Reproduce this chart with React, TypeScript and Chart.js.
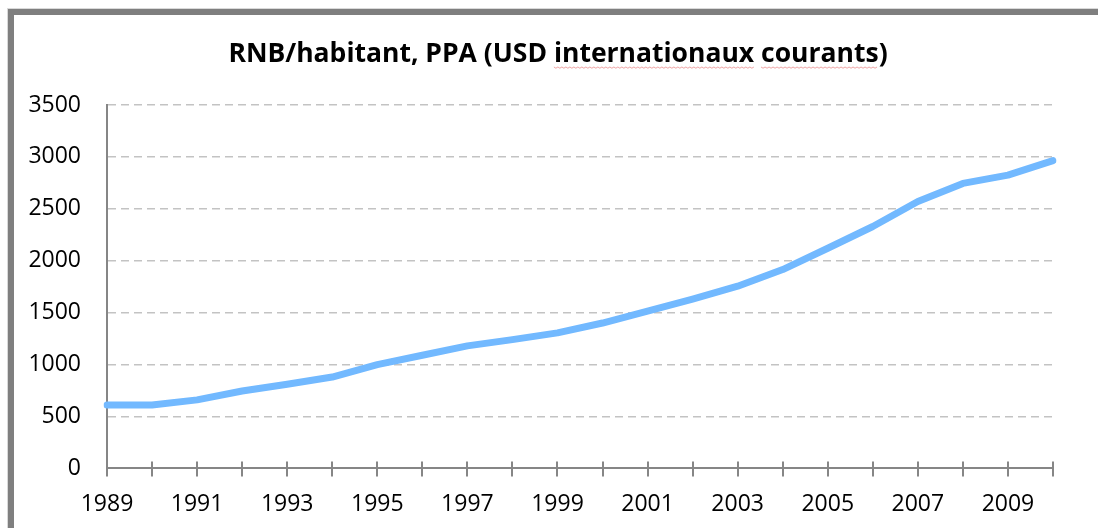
import React, { useEffect, useRef } from "react";
import { Chart, registerables } from "chart.js";

Chart.register(...registerables);

const TITLE = "RNB/habitant, PPA (USD internationaux courants)";
const YEARS = [
  "1989", "1990", "1991", "1992", "1993", "1994", "1995", "1996", "1997", "1998", "1999",
  "2000", "2001", "2002", "2003", "2004", "2005", "2006", "2007", "2008", "2009", "2010",
];
const GNI_PPP = [
  610, 610, 660, 745, 810, 880, 1000, 1090, 1180, 1240, 1305,
  1400, 1515, 1630, 1755, 1915, 2120, 2330, 2570, 2745, 2825, 2965,
];
const Y_MIN = 0;
const Y_MAX = 3500;
const Y_STEP = 500;

const FONT = "'Open Sans', 'Noto Sans', 'DejaVu Sans', sans-serif";

const framePlugin = {
  id: "frame",
  beforeDraw(chart: any) {
    const ctx = chart.ctx;
    ctx.save();
    ctx.fillStyle = "#ffffff";
    ctx.fillRect(0, 0, chart.width, chart.height);
    ctx.strokeStyle = "#d9d9d9";
    ctx.lineWidth = 1;
    ctx.strokeRect(7.5, 8.5, chart.width + 40, chart.height + 40);
    ctx.strokeStyle = "#7f7f7f";
    ctx.lineWidth = 6;
    ctx.strokeRect(11, 12, chart.width + 40, chart.height + 40);
    ctx.restore();
  },
};

const titlePlugin = {
  id: "customTitle",
  afterDraw(chart: any) {
    const ctx = chart.ctx;
    ctx.save();
    ctx.font = `bold 26.5px ${FONT}`;
    ctx.fillStyle = "#000000";
    ctx.textAlign = "left";
    ctx.textBaseline = "alphabetic";
    const total = ctx.measureText(TITLE).width;
    const cx = 558;
    const baseY = 62;
    const x0 = cx - total / 2;
    ctx.fillText(TITLE, x0, baseY);
    // spell-check squiggles under two words
    const words = ["internationaux", "courants"];
    ctx.strokeStyle = "rgba(225, 90, 90, 0.55)";
    ctx.lineWidth = 1;
    for (const w of words) {
      const idx = TITLE.indexOf(w);
      const sx = x0 + ctx.measureText(TITLE.slice(0, idx)).width;
      const ww = ctx.measureText(w).width;
      ctx.beginPath();
      for (let i = 0; i <= ww; i += 2) {
        const yy = baseY + 5 + ((i / 2) % 2 === 0 ? 0 : 1.2);
        if (i === 0) ctx.moveTo(sx + i, yy);
        else ctx.lineTo(sx + i, yy);
      }
      ctx.stroke();
    }
    ctx.restore();
  },
};

const crossTicksPlugin = {
  id: "crossTicks",
  afterDatasetsDraw(chart: any) {
    const xs = chart.scales.x;
    const ctx = chart.ctx;
    const yb = chart.chartArea.bottom;
    ctx.save();
    ctx.strokeStyle = "#868686";
    ctx.lineWidth = 2;
    for (let i = 0; i < xs.ticks.length; i++) {
      const px = Math.round(xs.getPixelForTick(i));
      ctx.beginPath();
      ctx.moveTo(px, yb - 7);
      ctx.lineTo(px, yb + 8);
      ctx.stroke();
    }
    ctx.restore();
  },
};

export default function App() {
  const ref = useRef<HTMLCanvasElement | null>(null);

  useEffect(() => {
    if (!ref.current) return;
    const chart = new Chart(ref.current, {
      type: "line",
      data: {
        labels: YEARS,
        datasets: [
          {
            data: GNI_PPP,
            borderColor: "#72b9ff",
            borderWidth: 7,
            pointRadius: 0,
            pointHoverRadius: 0,
            tension: 0,
            fill: false,
            borderCapStyle: "round",
            borderJoinStyle: "round",
          },
        ],
      },
      options: {
        responsive: false,
        animation: false,
        layout: { padding: { left: 0, right: 45, top: 105, bottom: -4 } },
        plugins: {
          legend: { display: false },
          title: { display: false },
          tooltip: { enabled: false },
        },
        scales: {
          x: {
            type: "category",
            offset: false,
            grid: {
              display: true,
              drawOnChartArea: false,
              drawTicks: true,
              tickLength: 8,
              color: "rgba(0,0,0,0)",
            },
            border: { display: true, color: "#868686", width: 2 },
            ticks: {
              autoSkip: false,
              maxRotation: 0,
              padding: 14,
              color: "#000000",
              font: { family: FONT, size: 23 },
              callback: (_v: any, i: number) => (i % 2 === 0 ? YEARS[i] : ""),
            },
          },
          y: {
            min: Y_MIN,
            max: Y_MAX,
            afterFit: (scale: any) => {
              scale.width = 107;
            },
            grid: {
              drawTicks: false,
              color: (c: any) => (c.tick && c.tick.value === 0 ? "rgba(0,0,0,0)" : "#c3c3c3"),
              lineWidth: 1.5,
            },
            border: { display: true, color: "#868686", width: 2, dash: [8, 5] },
            ticks: {
              stepSize: Y_STEP,
              padding: 26,
              color: "#000000",
              font: { family: FONT, size: 23 },
              callback: (v: any) => String(v),
            },
          },
        },
      },
      plugins: [framePlugin, titlePlugin, crossTicksPlugin],
    });
    return () => chart.destroy();
  }, []);

  return (
    <div style={{ position: "fixed", left: 0, top: 0, width: 1098, height: 528 }}>
      <canvas ref={ref} width={1098} height={528} style={{ display: "block" }} />
    </div>
  );
}
